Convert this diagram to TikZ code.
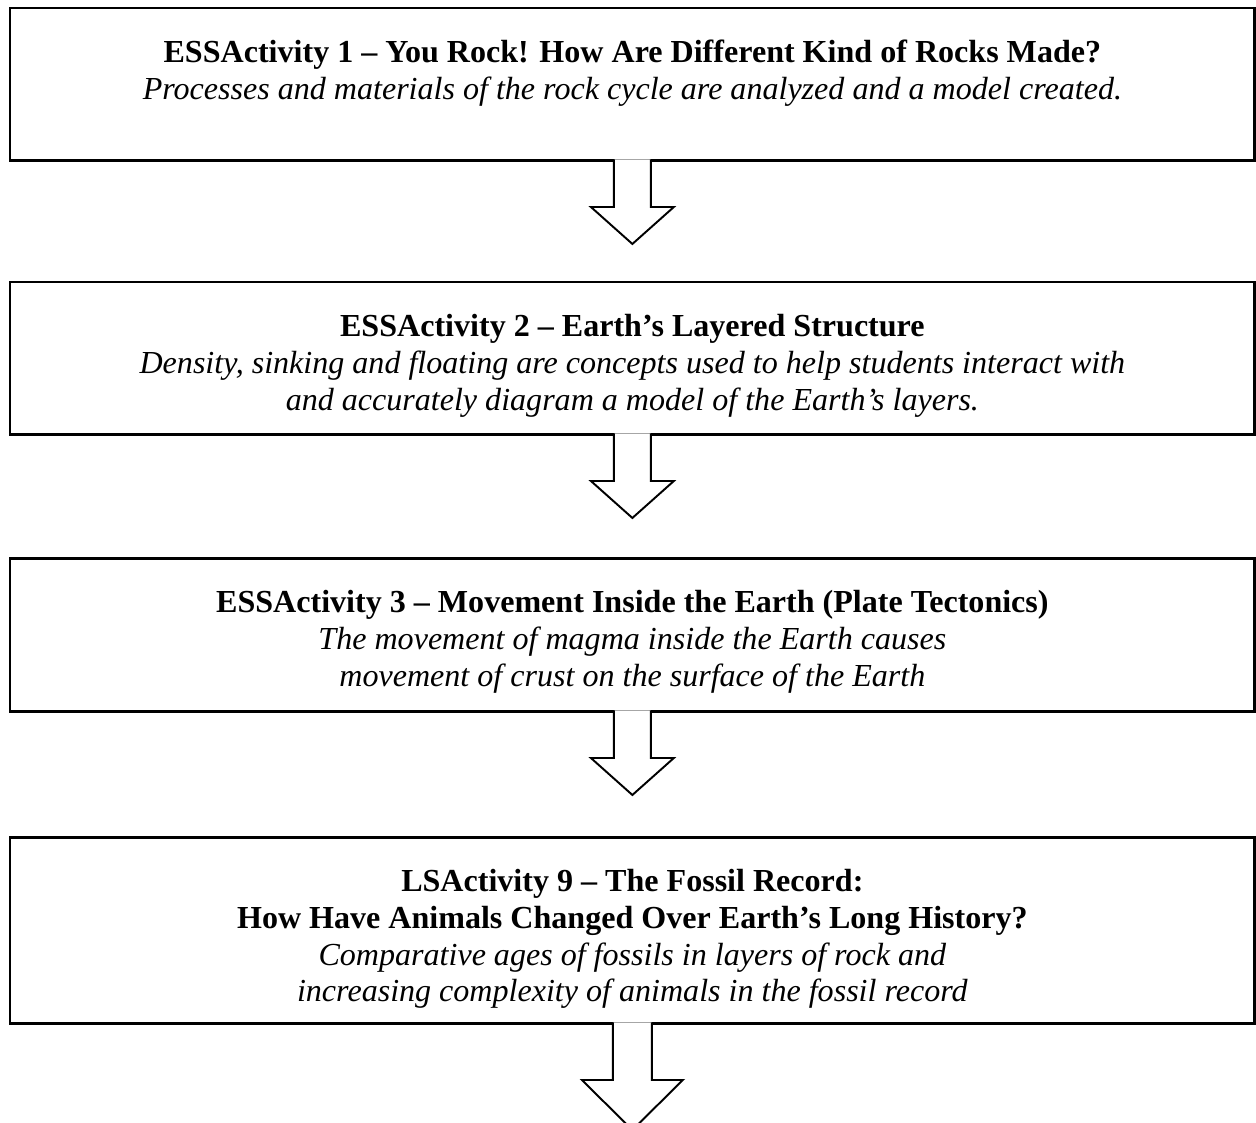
\documentclass[tikz,border=0pt]{standalone}
\usepackage{fontspec}
\setmainfont{Liberation Serif}
\usetikzlibrary{calc}
\tikzset{
  actbox/.style={draw, line width=1.7pt, minimum width=24.9cm, inner sep=0pt, outer sep=0pt, anchor=north west},
  acttext/.style={anchor=north, align=center, inner sep=0pt, font=\fontsize{18.25}{20.9}\selectfont},
  blockarrow/.style={draw, line width=1.1pt, fill=white, line join=miter}
}
\begin{document}
\begin{tikzpicture}[x=0.02cm, y=-0.02cm]
\useasboundingbox (0,0) rectangle (1256,1122);
\clip (0,0) rectangle (1256,1122);

% Activity boxes
\node[actbox, minimum height=3.06cm] (box1) at (10,8) {};
\node[actbox, minimum height=3.06cm] (box2) at (10,282) {};
\node[actbox, minimum height=3.08cm] (box3) at (10,558) {};
\node[actbox, minimum height=3.74cm] (box4) at (10,837) {};

% Box texts
\node[acttext] (act1) at ($(box1.north)+(0,32)$) {\textbf{ESSActivity 1 – You Rock! How Are Different Kind of Rocks Made?}\\
\textit{Processes and materials of the rock cycle are analyzed and a model created.}};
\node[acttext] (act2) at ($(box2.north)+(0,32)$) {\textbf{ESSActivity 2 – Earth’s Layered Structure}\\
\textit{Density, sinking and floating are concepts used to help students interact with}\\
\textit{and accurately diagram a model of the Earth’s layers.}};
\node[acttext] (act3) at ($(box3.north)+(0,32)$) {\textbf{ESSActivity 3 – Movement Inside the Earth (Plate Tectonics)}\\
\textit{The movement of magma inside the Earth causes}\\
\textit{movement of crust on the surface of the Earth}};
\node[acttext] (act4) at ($(box4.north)+(0,32)$) {\textbf{LSActivity 9 – The Fossil Record:}\\
\textbf{How Have Animals Changed Over Earth’s Long History?}\\
\textit{Comparative ages of fossils in layers of rock and}\\
\textit{increasing complexity of animals in the fossil record}};

% Block arrows between boxes
\foreach \a in {box1,box2,box3} {
  \draw[blockarrow] ($(\a.south)+(-18.5,-1.6)$) -- ++(0,47.6) -- ++(-23,0) -- ++(41.5,37) -- ++(41.5,-37) -- ++(-23,0) -- ++(0,-47.6);
}

% Last arrow (larger, runs off the page)
\draw[blockarrow] ($(box4.south)+(-19.5,-1.6)$) -- ++(0,57.6) -- ++(-31,0) -- ++(50.5,50) -- ++(50.5,-50) -- ++(-31,0) -- ++(0,-57.6);
\end{tikzpicture}
\end{document}
